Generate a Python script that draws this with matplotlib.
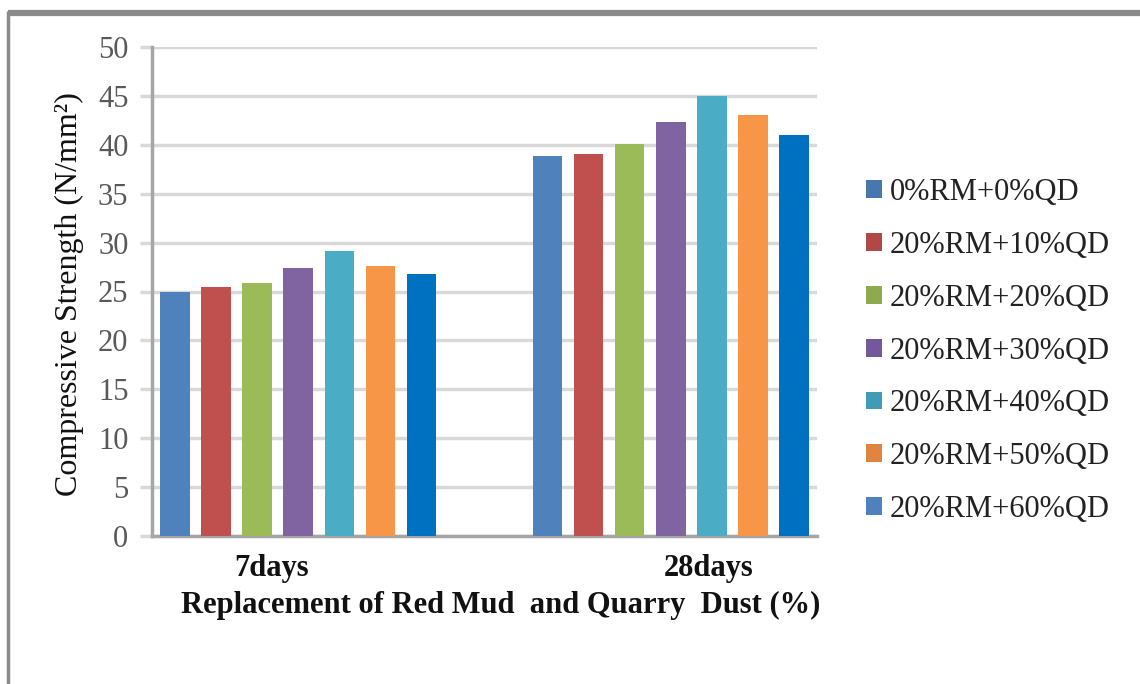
import matplotlib
matplotlib.use("Agg")
import matplotlib.pyplot as plt
import matplotlib.transforms as mtransforms
from matplotlib.lines import Line2D
from matplotlib.patches import Patch
import numpy as np

# Data
ages = ["7days", "28days"]
mixes = ["0%RM+0%QD", "20%RM+10%QD", "20%RM+20%QD", "20%RM+30%QD",
         "20%RM+40%QD", "20%RM+50%QD", "20%RM+60%QD"]
strength_7d = [25.0, 25.5, 25.9, 27.4, 29.1, 27.6, 26.8]
strength_28d = [38.9, 39.1, 40.1, 42.3, 45.0, 43.0, 41.0]
y_ticks = [0, 5, 10, 15, 20, 25, 30, 35, 40, 45, 50]

bar_colors = ["#4F81BD", "#C0504D", "#9BBB59", "#8064A2",
              "#4BACC6", "#F79646", "#0070C0"]
legend_colors = ["#4A76AE", "#B24846", "#8EAA50", "#74589A",
                 "#409CB4", "#E08540", "#4F81BD"]

serif = ["Liberation Serif", "DejaVu Serif"]
plt.rcParams["font.family"] = serif

W, H = 1140, 684
fig = plt.figure(figsize=(W / 100, H / 100), dpi=100)
fig.patch.set_facecolor("white")

# outer frame (top and left edges)
fig.add_artist(Line2D([8 / W, 1.0], [1 - 13 / H, 1 - 13 / H], transform=fig.transFigure,
                      color="#8A8A8A", lw=4.5, solid_capstyle="butt"))
fig.add_artist(Line2D([8 / W, 8 / W], [0.0, 1 - 11 / H], transform=fig.transFigure,
                      color="#8A8A8A", lw=2.5, solid_capstyle="butt"))

ax = fig.add_axes([152 / W, 1 - 536 / H, (817 - 152) / W, (536 - 47) / H])

x = np.arange(len(ages))
step = 0.1103
width = 0.0797
values = np.array([strength_7d, strength_28d])
for i, mix in enumerate(mixes):
    offs = (i - (len(mixes) - 1) / 2) * step
    ax.bar(x + offs, values[:, i], width=width, color=bar_colors[i],
           label=mix, zorder=3)

ax.set_xlim(-0.393, 1.393)
ax.set_ylim(0, 50)
ax.set_yticks(y_ticks)
ax.yaxis.grid(True, color="#D9D9D9", lw=2.5, zorder=0)
ax.set_axisbelow(True)

for side in ["top", "right"]:
    ax.spines[side].set_visible(False)
ax.spines["left"].set_color("#A6A6A6")
ax.spines["left"].set_linewidth(2.5)
ax.spines["bottom"].set_color("#A6A6A6")
ax.spines["bottom"].set_linewidth(2.5)

ax.tick_params(axis="y", length=9, width=2.5, color="#D9D9D9",
               labelsize=22, labelcolor="#595959", pad=8)
ax.tick_params(axis="x", length=0, pad=13)
ax.set_xticks(x)
ax.set_xticklabels(ages, fontsize=22, fontweight="bold", color="#111111")
# shift category labels slightly as in the layout
shifts = [-27, 38]
for lab, dx in zip(ax.get_xticklabels(), shifts):
    lab.set_transform(lab.get_transform() +
                      mtransforms.ScaledTranslation(dx / 100, 0, fig.dpi_scale_trans))

fig.text(501 / W, 1 - 605 / H, "Replacement of Red Mud  and Quarry  Dust (%)",
         ha="center", va="center", fontsize=22, fontweight="bold", color="#111111")
fig.text(69 / W, 1 - 294 / H, "Compressive Strength (N/mm²)", rotation=90,
         ha="center", va="center", fontsize=23, color="#111111")

handles = [Patch(facecolor=c, edgecolor="none") for c in legend_colors]
leg = fig.legend(handles, mixes, loc="upper left",
                 bbox_to_anchor=(866 / W, 1 - 178 / H),
                 frameon=False, fontsize=22, handlelength=0.52, handleheight=0.52,
                 handletextpad=0.25, labelspacing=0.78, borderaxespad=0,
                 borderpad=0)
for t in leg.get_texts():
    t.set_color("#222222")

fig.savefig("out.png", dpi=100, facecolor="white")
